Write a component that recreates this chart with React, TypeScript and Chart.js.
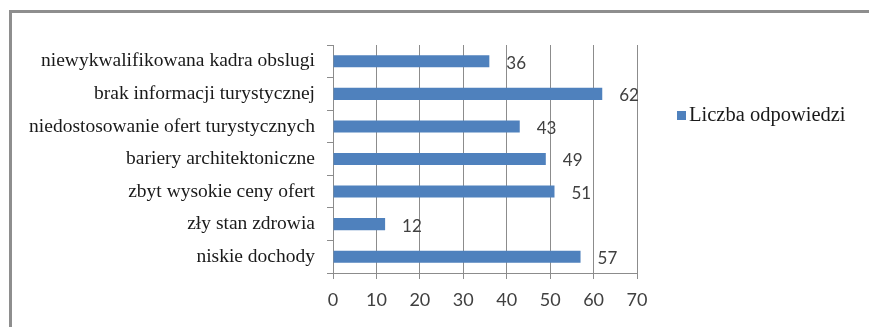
import React, { useEffect, useRef } from "react";
import { Chart, registerables } from "chart.js";

Chart.register(...registerables);

const categories = [
  "niewykwalifikowana kadra obslugi",
  "brak informacji turystycznej",
  "niedostosowanie ofert turystycznych",
  "bariery architektoniczne",
  "zbyt wysokie ceny ofert",
  "zły stan zdrowia",
  "niskie dochody",
];
const responses = [36, 62, 43, 49, 51, 12, 57];
const seriesName = "Liczba odpowiedzi";
const axisMin = 0;
const axisMax = 70;
const axisStep = 10;

const BAR_COLOR = "#4f81bd";
const GRID_COLOR = "#8c8c8c";
const SERIF = "'Liberation Serif', 'Times New Roman', serif";
const SANS = "Lato, 'Liberation Sans', sans-serif";

// value labels to the right of each bar
const valueLabels = {
  id: "valueLabels",
  afterDatasetsDraw(chart: any) {
    const ctx = chart.ctx;
    const meta = chart.getDatasetMeta(0);
    ctx.save();
    ctx.font = `17px ${SANS}`;
    ctx.fillStyle = "#404040";
    ctx.textAlign = "left";
    ctx.textBaseline = "middle";
    meta.data.forEach((bar: any, i: number) => {
      ctx.fillText(String(responses[i]), bar.x + 17, bar.y + 2);
    });
    ctx.restore();
  },
};

// legend on the right side
const sideLegend = {
  id: "sideLegend",
  afterDraw(chart: any) {
    const ctx = chart.ctx;
    const area = chart.chartArea;
    const cy = (area.top + area.bottom) / 2 - 44;
    const x = area.right + 40;
    ctx.save();
    ctx.fillStyle = BAR_COLOR;
    ctx.fillRect(x, cy - 4, 9, 9);
    ctx.font = `20.5px ${SERIF}`;
    ctx.fillStyle = "#1a1a1a";
    ctx.textAlign = "left";
    ctx.textBaseline = "middle";
    ctx.fillText(seriesName, x + 12, cy + 1);
    ctx.restore();
  },
};

export default function App() {
  const canvasRef = useRef<HTMLCanvasElement | null>(null);

  useEffect(() => {
    if (!canvasRef.current) return;
    const chart = new Chart(canvasRef.current, {
      type: "bar",
      data: {
        labels: categories,
        datasets: [
          {
            label: seriesName,
            data: responses,
            backgroundColor: BAR_COLOR,
            barPercentage: 0.37,
            categoryPercentage: 1,
          },
        ],
      },
      options: {
        indexAxis: "y",
        responsive: false,
        animation: false,
        layout: { padding: { top: 45, right: 232, left: 0, bottom: 0 } },
        plugins: {
          legend: { display: false },
          tooltip: { enabled: false },
        },
        scales: {
          x: {
            min: axisMin,
            max: axisMax,
            ticks: {
              stepSize: axisStep,
              color: "#404040",
              font: { family: SANS, size: 18 },
              padding: 10,
            },
            grid: { color: GRID_COLOR, tickLength: 6, lineWidth: 1 },
            border: { color: GRID_COLOR },
            afterFit: (scale: any) => {
              scale.height = 54;
            },
          },
          y: {
            ticks: {
              color: "#1a1a1a",
              font: { family: SERIF, size: 19.5 },
              padding: 12,
            },
            grid: {
              drawOnChartArea: false,
              color: GRID_COLOR,
              tickLength: 6,
              offset: true,
            },
            border: { color: GRID_COLOR },
            afterFit: (scale: any) => {
              scale.width = 333;
            },
          },
        },
      },
      plugins: [valueLabels, sideLegend],
    });
    return () => chart.destroy();
  }, []);

  return (
    <div style={{ position: "absolute", left: 0, top: 0, width: 869, height: 327, background: "#fff", overflow: "hidden" }}>
      <div
        style={{
          position: "absolute",
          left: 9,
          top: 10,
          width: 880,
          height: 340,
          borderTop: "3px solid #8e8e8e",
          borderLeft: "3px solid #8e8e8e",
        }}
      />
      <canvas ref={canvasRef} width={869} height={327} style={{ position: "absolute", left: 0, top: 0 }} />
    </div>
  );
}
